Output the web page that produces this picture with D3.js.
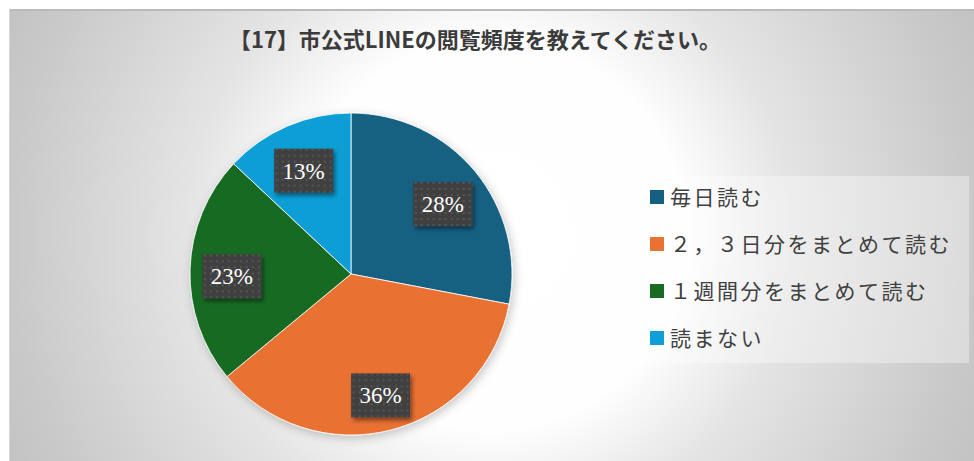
<!DOCTYPE html>
<html>
<head>
<meta charset="utf-8">
<script src="https://cdn.jsdelivr.net/npm/d3@7/dist/d3.min.js"></script>
<style>
  html, body { margin: 0; padding: 0; background: #fff; }
  svg { display: block; }
</style>
</head>
<body>
<svg id="chart" width="974" height="461"></svg>
<script>
// chart data
var title = "【17】市公式LINEの閲覧頻度を教えてください。";
var categories = ["毎日読む", "２，３日分をまとめて読む", "１週間分をまとめて読む", "読まない"];
var values = [28, 36, 23, 13];

// office theme colours
var palette = ["#156082", "#E97132", "#196B24", "#0F9ED5"];

var svg = d3.select("#chart");
var W = 974, H = 461;
var defs = svg.append("defs");

// background: soft radial shade, white in the middle, grey to the edges
var bg = defs.append("radialGradient")
    .attr("id", "bgGrad")
    .attr("gradientUnits", "userSpaceOnUse")
    .attr("cx", 490).attr("cy", 235).attr("r", 540);
[[0, 255], [0.36, 254], [0.56, 228], [0.89, 201], [1, 194]].forEach(function(s) {
  bg.append("stop").attr("offset", s[0]).attr("stop-color", d3.rgb(s[1], s[1], s[1]));
});

// shadow under the pie
var pieShadow = defs.append("filter").attr("id", "pieShadow")
    .attr("x", "-20%").attr("y", "-20%").attr("width", "140%").attr("height", "140%");
pieShadow.append("feDropShadow")
    .attr("dx", 2).attr("dy", 3).attr("stdDeviation", 5)
    .attr("flood-color", "#000").attr("flood-opacity", 0.22);

// shadow under the label boxes
var boxShadow = defs.append("filter").attr("id", "boxShadow")
    .attr("x", "-30%").attr("y", "-30%").attr("width", "160%").attr("height", "160%");
boxShadow.append("feDropShadow")
    .attr("dx", 2).attr("dy", 3).attr("stdDeviation", 2)
    .attr("flood-color", "#000").attr("flood-opacity", 0.45);

// dotted fill for the label boxes
var dots = defs.append("pattern").attr("id", "dots")
    .attr("patternUnits", "userSpaceOnUse")
    .attr("width", 6).attr("height", 6);
dots.append("rect").attr("width", 6).attr("height", 6).attr("fill", "#404040");
dots.append("rect").attr("x", 2).attr("y", 2).attr("width", 2).attr("height", 2).attr("fill", "#545454");

// chart area
svg.append("rect")
    .attr("x", 9).attr("y", 9)
    .attr("width", W - 9).attr("height", H - 9)
    .attr("fill", "url(#bgGrad)");
svg.append("line")
    .attr("x1", 9).attr("x2", W).attr("y1", 10).attr("y2", 10)
    .attr("stroke", "#bababa").attr("stroke-width", 2);
svg.append("line")
    .attr("x1", 9.5).attr("x2", 9.5).attr("y1", 9).attr("y2", H)
    .attr("stroke", "#d6d6d6").attr("stroke-width", 1);

// title
svg.append("text")
    .attr("x", 475).attr("y", 48)
    .attr("text-anchor", "middle")
    .attr("font-family", "'Noto Sans CJK JP', sans-serif")
    .attr("font-weight", 700)
    .attr("font-size", 22)
    .attr("fill", "#3b3b3b")
    .text(title);

// pie
var cx = 351, cy = 274, radius = 161;
var pie = d3.pie().sort(null).value(function(d) { return d; });
var arcs = pie(values);
var arc = d3.arc().innerRadius(0).outerRadius(radius);
var labelArc = d3.arc().innerRadius(radius * 0.74).outerRadius(radius * 0.74);

var g = svg.append("g").attr("transform", "translate(" + cx + "," + cy + ")");

g.append("g").attr("filter", "url(#pieShadow)")
  .selectAll("path")
  .data(arcs)
  .enter().append("path")
    .attr("d", arc)
    .attr("fill", function(d, i) { return palette[i]; })
    .attr("stroke", "#ffffff")
    .attr("stroke-opacity", 0.8)
    .attr("stroke-width", 1);

// data labels (excel puts them a touch lower than the arc centroid)
var boxW = 59, boxH = 44;
var labels = g.selectAll(".lbl")
  .data(arcs)
  .enter().append("g")
    .attr("class", "lbl")
    .attr("transform", function(d) {
      var c = labelArc.centroid(d);
      return "translate(" + c[0] + "," + (c[1] + 6) + ")";
    });

labels.append("rect")
    .attr("x", -boxW / 2).attr("y", -boxH / 2)
    .attr("width", boxW).attr("height", boxH)
    .attr("fill", "url(#dots)")
    .attr("filter", "url(#boxShadow)");

labels.append("text")
    .attr("text-anchor", "middle")
    .attr("dy", "0.35em")
    .attr("font-family", "'Liberation Serif', 'DejaVu Serif', serif")
    .attr("font-size", 23)
    .attr("fill", "#ffffff")
    .text(function(d) { return d.data + "%"; });

// legend
var legend = svg.append("g");
legend.append("rect")
    .attr("x", 637).attr("y", 176)
    .attr("width", 332).attr("height", 187)
    .attr("fill", "#ffffff")
    .attr("fill-opacity", 0.35);

var rowY = d3.scalePoint()
    .domain(categories)
    .range([197, 338]);

var items = legend.selectAll(".item")
  .data(categories)
  .enter().append("g")
    .attr("class", "item")
    .attr("transform", function(d) { return "translate(650," + rowY(d) + ")"; });

items.append("rect")
    .attr("x", 0).attr("y", -7)
    .attr("width", 14).attr("height", 14)
    .attr("fill", function(d, i) { return palette[i]; });

items.append("text")
    .attr("x", 20)
    .attr("dy", "0.36em")
    .attr("font-family", "'Noto Sans CJK JP', sans-serif")
    .attr("font-size", 21)
    .attr("letter-spacing", 2.5)
    .attr("fill", "#404040")
    .text(function(d) { return d; });
</script>
</body>
</html>
